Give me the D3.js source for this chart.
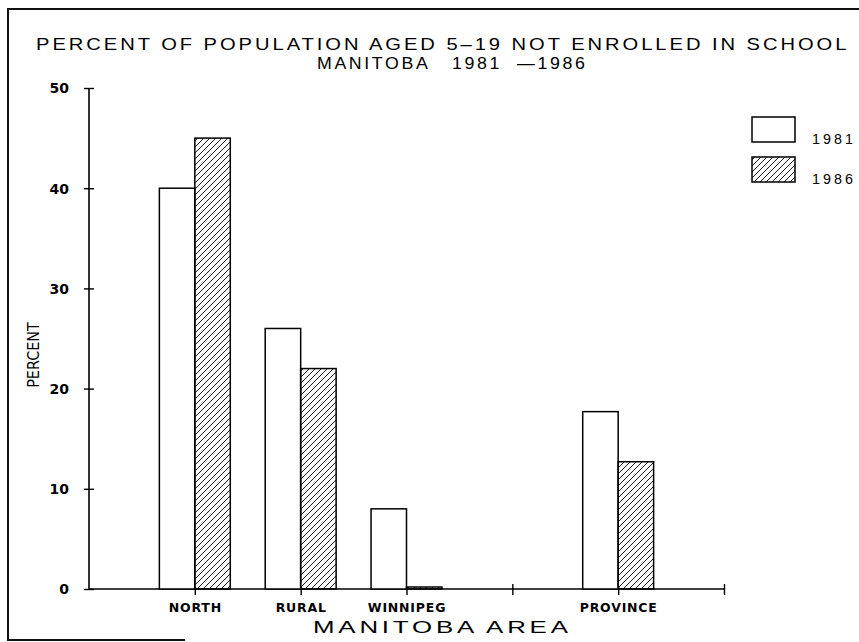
<!DOCTYPE html>
<html>
<head>
<meta charset="utf-8">
<script src="https://cdn.jsdelivr.net/npm/d3@7"></script>
<style>
  body { margin: 0; background: #fff; }
  svg { display: block; }
  text { fill: #000; }
</style>
</head>
<body>
<div id="chart"></div>
<script>
// data
const areas = ['NORTH', 'RURAL', 'WINNIPEG', 'PROVINCE'];
const years = ['1981', '1986'];
const pct1981 = [40, 26, 8, 17.7];
const pct1986 = [45, 22, 0.2, 12.7];
const yTicks = [0, 10, 20, 30, 40, 50];
// slots on the x axis: blank start, 3 areas, a gap, province, blank end
const slots = ['s0', 'NORTH', 'RURAL', 'WINNIPEG', 'gap', 'PROVINCE', 'end'];

(function () {
    const width = 859, height = 642;
    const svg = d3.select('#chart').append('svg').attr('width', width).attr('height', height);

    const defs = svg.append('defs');
    const pat = defs.append('pattern').attr('id', 'hatch')
        .attr('patternUnits', 'userSpaceOnUse').attr('width', 6).attr('height', 6);
    pat.append('path').attr('d', 'M-1,1 l2,-2 M0,6 l6,-6 M5,7 l2,-2')
        .attr('stroke', '#000').attr('stroke-width', 0.9);

    // page frame (scan edges)
    svg.append('rect').attr('x', 7).attr('y', 8).attr('width', 852).attr('height', 2).attr('fill', '#111');
    svg.append('rect').attr('x', 7).attr('y', 8).attr('width', 2).attr('height', 633).attr('fill', '#111');
    svg.append('rect').attr('x', 7).attr('y', 639).attr('width', 178).attr('height', 2).attr('fill', '#111');

    const xScale = d3.scalePoint().domain(slots).range([89, 724]);
    const yScale = d3.scaleLinear().domain([0, 50]).range([589, 88]);
    const step = xScale.step();
    const bw = step * 0.335;

    const font = '"Liberation Sans", Arial, sans-serif';

    // plotter-style wide text: draw, measure, then stretch to the width seen in the scan
    function wideText(str, x, y, w, size, spacing) {
        const t = svg.append('text').attr('xml:space', 'preserve')
            .style('font', `${size}px ${font}`)
            .style('letter-spacing', spacing + 'px')
            .text(str);
        const nat = t.node().getComputedTextLength() - spacing;
        t.attr('transform', `translate(${x},${y}) scale(${w / nat},1)`);
        return t;
    }

    // title
    wideText('PERCENT OF POPULATION AGED 5\u201319 NOT ENROLLED IN SCHOOL', 36, 50, 811, 17, 2.5);
    wideText('MANITOBA   1981  \u20141986', 317, 69, 268, 17, 2.5);

    // y axis
    const yAxis = svg.append('g').attr('transform', 'translate(89,0)')
        .call(d3.axisLeft(yScale).tickValues(yTicks).tickSize(5).tickPadding(15));
    yAxis.select('.domain').attr('stroke-width', 1.6).attr('d', `M0,${yScale(0)}V${yScale(50)}`);
    yAxis.selectAll('.tick line').attr('x1', 5).attr('stroke-width', 1.4);
    yAxis.selectAll('.tick text')
        .style('font', 'bold 14px "DejaVu Sans", sans-serif')
        .attr('dy', '0.35em');

    // x axis
    const xAxis = svg.append('g').attr('transform', `translate(0,${yScale(0)})`)
        .call(d3.axisBottom(xScale).tickSize(6).tickPadding(8)
            .tickFormat(d => areas.includes(d) ? d : ''));
    xAxis.select('.domain').attr('stroke-width', 1.6)
        .attr('d', `M${xScale('s0')},0H${xScale('end')}`);
    xAxis.selectAll('.tick').filter(d => d === 's0').remove();
    xAxis.selectAll('.tick line').attr('y1', d => (d === 'gap' || d === 'end') ? -5 : -2)
        .attr('stroke-width', 1.4);
    xAxis.selectAll('.tick text')
        .style('font', 'bold 12.5px "DejaVu Sans", sans-serif')
        .style('letter-spacing', '0.8px');

    // bars
    const g = svg.append('g');
    const series = [pct1981, pct1986];
    series.forEach(function (vals, j) {
        g.selectAll('.bar' + j).data(vals).enter().append('rect')
            .attr('class', 'bar' + j)
            .attr('x', (d, i) => xScale(areas[i]) - (j === 0 ? bw : 0))
            .attr('y', d => yScale(d))
            .attr('width', bw)
            .attr('height', d => yScale(0) - yScale(d))
            .attr('fill', j === 0 ? '#fff' : 'url(#hatch)')
            .attr('stroke', '#000').attr('stroke-width', 1.5);
    });

    // legend
    const legY = [117, 157];
    years.forEach(function (yr, j) {
        svg.append('rect').attr('x', 752).attr('y', legY[j]).attr('width', 43).attr('height', 25)
            .attr('fill', j === 0 ? '#fff' : 'url(#hatch)')
            .attr('stroke', '#000').attr('stroke-width', 1.5);
        wideText(yr, 812, legY[j] + 27, 41, 14, 3);
    });

    // axis titles
    wideText('MANITOBA AREA', 313, 633, 255, 17, 2.5);
    svg.append('text').attr('transform', 'translate(39,355) rotate(-90)')
        .attr('text-anchor', 'middle')
        .style('font', '16px "Liberation Sans Narrow", "DejaVu Sans Condensed", sans-serif')
        .text('PERCENT');
})();
</script>
</body>
</html>
